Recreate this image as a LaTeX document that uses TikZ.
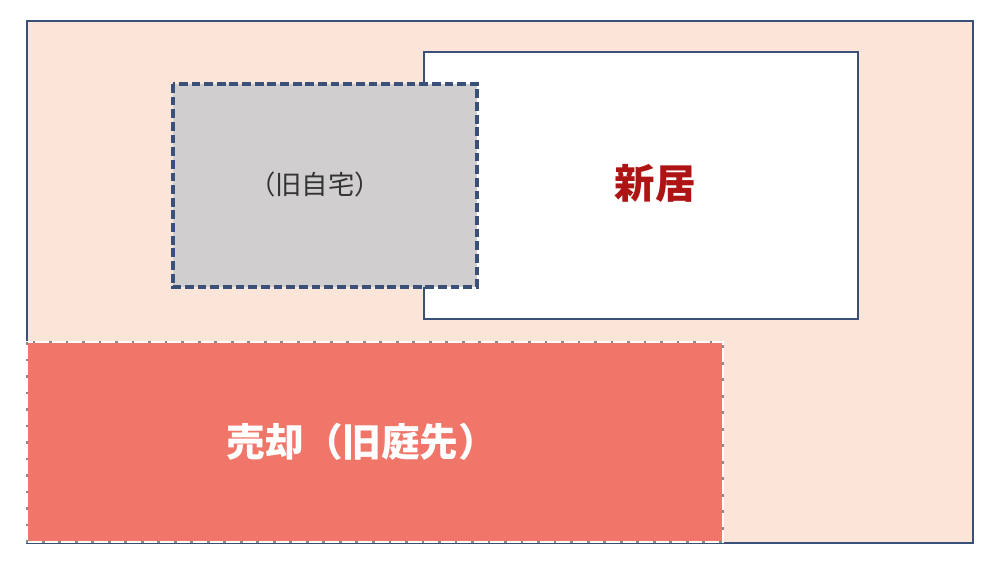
\documentclass[tikz,border=0pt]{standalone}
\usepackage{fontspec}
\newfontfamily\cjk{Noto Sans CJK JP}
\definecolor{plotpeach}{HTML}{FBE4D8}
\definecolor{salered}{HTML}{EF7669}
\definecolor{oldgray}{HTML}{D0CECF}
\definecolor{lineblue}{HTML}{3B5078}
\definecolor{newred}{HTML}{AE1414}
\definecolor{dotgray}{HTML}{8A8A8A}
\tikzset{
	plotline/.style={draw=lineblue, line width=1.1pt},
	newbox/.style={draw=lineblue, line width=1.3pt, fill=white},
	oldbox/.style={draw=lineblue, line width=2.4pt, fill=oldgray, dash pattern=on 5pt off 2.2pt},
	label/.style={font=\cjk, inner sep=0pt}
}
\begin{document}
\begin{tikzpicture}[x=0.02cm, y=-0.02cm]
	\useasboundingbox [fill=white] (0,0) rectangle (1000,564);
	% plot
	\draw [plotline, fill=plotpeach] (27,21) rectangle (973,543);
	% sold part
	\fill [salered] (27,342) rectangle (723,542);
	\draw [white, line width=1.6pt] (27,342) rectangle (723,542);
	\draw [dotgray, line width=1.6pt, dash pattern=on 1.6pt off 7.8pt] (27,342) rectangle (723,542);
	% new house
	\draw [newbox] (424,52) rectangle (858,319);
	% old house
	\draw [oldbox] (173,84) rectangle (477,287);
	\node [label, text=black!80, font=\cjk\fontsize{15}{17}\selectfont] (oldhouse) at (315,184) {（旧自宅）};
	\node [label, text=newred, font=\cjk\bfseries\fontsize{23}{26}\selectfont] (newhouse) at (655,183) {新居};
	\node [label, text=white, font=\cjk\bfseries\fontsize{22}{25}\selectfont] (sold) at (362,442) {売却（旧庭先）};
\end{tikzpicture}
\end{document}
